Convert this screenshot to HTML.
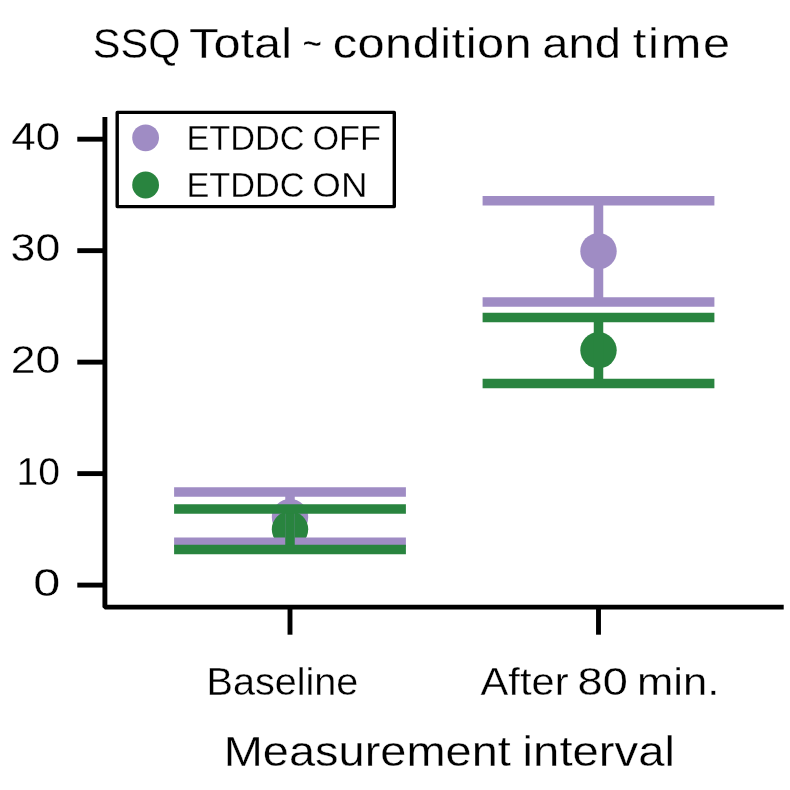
<!DOCTYPE html>
<html lang="en">
<head>
<meta charset="utf-8">
<title>SSQ Total ~ condition and time</title>
<style>
html,body{margin:0;padding:0;background:#ffffff;}
body{width:790px;height:790px;overflow:hidden;}
svg{display:block;}
text{font-family:"Liberation Sans",sans-serif;fill:#000000;stroke:#ffffff;stroke-width:0.3px;}
</style>
</head>
<body>
<svg width="790" height="790" viewBox="0 0 790 790">
<rect x="0" y="0" width="790" height="790" fill="#ffffff"/>

<g id="markers">
<circle cx="290.0" cy="517.1" r="18.2" fill="#9f8cc4"/>
<circle cx="598.5" cy="251.2" r="18.2" fill="#9f8cc4"/>
<circle cx="290.0" cy="529.3" r="18.2" fill="#29843f"/>
<circle cx="598.5" cy="350.3" r="18.2" fill="#29843f"/>
</g>
<g id="err-off">
<line x1="290.0" y1="492.10" x2="290.0" y2="542.20" stroke="#9f8cc4" stroke-width="9.5"/>
<line x1="174.10" y1="492.10" x2="405.90" y2="492.10" stroke="#9f8cc4" stroke-width="9.5"/>
<line x1="174.10" y1="542.20" x2="405.90" y2="542.20" stroke="#9f8cc4" stroke-width="9.5"/>
<line x1="598.5" y1="200.85" x2="598.5" y2="301.90" stroke="#9f8cc4" stroke-width="9.5"/>
<line x1="482.60" y1="200.85" x2="714.40" y2="200.85" stroke="#9f8cc4" stroke-width="9.5"/>
<line x1="482.60" y1="301.90" x2="714.40" y2="301.90" stroke="#9f8cc4" stroke-width="9.5"/>
</g>
<g id="err-on">
<line x1="290.0" y1="508.90" x2="290.0" y2="549.60" stroke="#29843f" stroke-width="9.5"/>
<line x1="174.10" y1="508.90" x2="405.90" y2="508.90" stroke="#29843f" stroke-width="9.5"/>
<line x1="174.10" y1="549.60" x2="405.90" y2="549.60" stroke="#29843f" stroke-width="9.5"/>
<line x1="598.5" y1="317.50" x2="598.5" y2="383.40" stroke="#29843f" stroke-width="9.5"/>
<line x1="482.60" y1="317.50" x2="714.40" y2="317.50" stroke="#29843f" stroke-width="9.5"/>
<line x1="482.60" y1="383.40" x2="714.40" y2="383.40" stroke="#29843f" stroke-width="9.5"/>
</g>
<g id="axes" stroke="#000000" stroke-width="4.9" fill="none">
<path d="M104.9 117.0 L104.9 607.15 L783.7 607.15" stroke-linejoin="bevel"/>
<line x1="77.3" y1="585.10" x2="104.9" y2="585.10"/>
<line x1="77.3" y1="473.62" x2="104.9" y2="473.62"/>
<line x1="77.3" y1="362.14" x2="104.9" y2="362.14"/>
<line x1="77.3" y1="250.66" x2="104.9" y2="250.66"/>
<line x1="77.3" y1="139.18" x2="104.9" y2="139.18"/>
<line x1="290.0" y1="607.15" x2="290.0" y2="634.7"/>
<line x1="598.5" y1="607.15" x2="598.5" y2="634.7"/>
</g>
<g id="legend">
<rect x="117.2" y="112.4" width="277.1" height="94.2" fill="#ffffff" stroke="#000000" stroke-width="3.4" stroke-linejoin="round"/>
<circle cx="145.6" cy="137.8" r="13.4" fill="#9f8cc4"/>
<circle cx="145.6" cy="185.0" r="13.4" fill="#29843f"/>
</g>
<g id="labels">
<text transform="translate(92.75 58.00) scale(0.9794 1)" font-size="42.4">SSQ</text>
<text transform="translate(189.09 58.00) scale(1.1488 1)" font-size="42.4">Total</text>
<text transform="translate(302.38 58.00) scale(0.7866 1)" font-size="42.4">~</text>
<text transform="translate(332.64 58.00) scale(1.1500 1)" font-size="42.4" letter-spacing="0.420">condition</text>
<text transform="translate(542.18 58.00) scale(1.1128 1)" font-size="42.4">and</text>
<text transform="translate(632.81 58.00) scale(1.1500 1)" font-size="42.4" letter-spacing="1.495">time</text>
<text transform="translate(11.32 149.50) scale(1.1082 1)" font-size="39.7">40</text>
<text transform="translate(10.61 261.20) scale(1.1248 1)" font-size="39.7">30</text>
<text transform="translate(10.73 372.60) scale(1.1220 1)" font-size="39.7">20</text>
<text transform="translate(16.52 484.80) scale(0.9853 1)" font-size="39.7">10</text>
<text transform="translate(33.29 595.60) scale(1.2268 1)" font-size="39.7">0</text>
<text transform="translate(206.48 694.50) scale(0.9976 1)" font-size="39.7">Baseline</text>
<text transform="translate(480.52 694.50) scale(1.0498 1)" font-size="39.7">After</text>
<text transform="translate(577.60 694.50) scale(1.1370 1)" font-size="39.7">80</text>
<text transform="translate(637.01 694.50) scale(1.0973 1)" font-size="39.7">min.</text>
<text transform="translate(223.63 765.60) scale(1.1083 1)" font-size="42.4">Measurement</text>
<text transform="translate(522.58 765.60) scale(1.1154 1)" font-size="42.4">interval</text>
<text transform="translate(186.43 149.60) scale(0.9916 1)" font-size="34.6">ETDDC</text>
<text transform="translate(312.43 149.60) scale(0.9898 1)" font-size="34.6">OFF</text>
<text transform="translate(186.43 197.20) scale(0.9916 1)" font-size="34.6">ETDDC</text>
<text transform="translate(312.29 197.20) scale(1.0632 1)" font-size="34.6">ON</text>
</g>
</svg>
</body>
</html>
